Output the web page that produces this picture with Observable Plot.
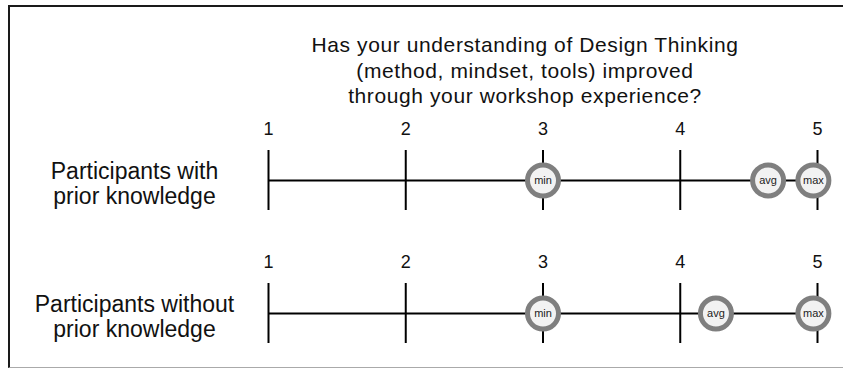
<!DOCTYPE html>
<html>
<head>
<meta charset="utf-8">
<script src="https://cdn.jsdelivr.net/npm/d3@7"></script>
<script src="https://cdn.jsdelivr.net/npm/@observablehq/plot@0.6"></script>
<style>
  html, body { margin: 0; padding: 0; background: #fff; overflow: hidden; }
  #wrap { position: relative; width: 843px; height: 370px; overflow: hidden; font-family: "Liberation Sans", Arial, sans-serif; }
  #frame { position: absolute; left: 8px; top: 5px; width: 900px; height: 360px; border-top: 2px solid #1a1a1a; border-left: 2px solid #1a1a1a; border-bottom: 1px solid #aaa; }
  #title { position: absolute; left: 225px; width: 600px; top: 32px; text-align: center; font-size: 21px; line-height: 25.5px; letter-spacing: 0.6px; color: #111; }
  #chart { position: absolute; left: 0; top: 0; }
  g[aria-label="row-labels"] text { letter-spacing: 0.5px; }
  g[aria-label="tick-labels"] text { letter-spacing: 0.3px; }
</style>
</head>
<body>
<div id="wrap">
  <div id="frame"></div>
  <div id="title">Has your understanding of Design Thinking<br>(method, mindset, tools) improved<br>through your workshop experience?</div>
  <div id="chart"></div>
</div>
<script>
const rows = ["Participants with\nprior knowledge", "Participants without\nprior knowledge"];
const scaleTicks = [1, 2, 3, 4, 5];
const statLabels = ["min", "avg", "max"];
const withPrior = [3.0, 4.64, 4.97];
const withoutPrior = [3.0, 4.26, 4.97];

const seriesByRow = [withPrior, withoutPrior];
const points = rows.flatMap((row, r) => statLabels.map((stat, i) => ({row, stat, value: seriesByRow[r][i]})));
const tickData = rows.flatMap(row => scaleTicks.map(v => ({row, v})));

const chart = Plot.plot({
  width: 843,
  height: 370,
  marginLeft: 268,
  marginRight: 26,
  marginTop: 150,
  marginBottom: 27,
  style: {fontFamily: "'Liberation Sans', Arial, sans-serif", background: "transparent", color: "#111"},
  x: {domain: [scaleTicks[0], scaleTicks[scaleTicks.length - 1]], axis: null},
  y: {type: "band", domain: rows, paddingInner: 0.55, paddingOuter: 0, axis: null},
  marks: [
    Plot.ruleY(rows, {y: d => d, x1: () => scaleTicks[0], x2: () => scaleTicks[scaleTicks.length - 1], stroke: "#000", strokeWidth: 2}),
    Plot.tickX(tickData, {x: "v", y: "row", stroke: "#000", strokeWidth: 2}),
    Plot.text(tickData, {x: "v", y: "row", text: d => String(d.v), dy: -51, fontSize: 18, fill: "#111", ariaLabel: "tick-labels"}),
    Plot.text(rows, {y: d => d, text: d => d, frameAnchor: "left", dx: -134, dy: 3, textAnchor: "middle", fontSize: 23, lineHeight: 1.06, fill: "#111", ariaLabel: "row-labels"}),
    Plot.dot(points, {x: "value", y: "row", r: 15.5, fill: "#f2f2f2", stroke: "#7f7f7f", strokeWidth: 5}),
    Plot.text(points, {x: "value", y: "row", text: "stat", fontSize: 11, fill: "#222"})
  ]
});
document.getElementById("chart").appendChild(chart);
</script>
</body>
</html>
